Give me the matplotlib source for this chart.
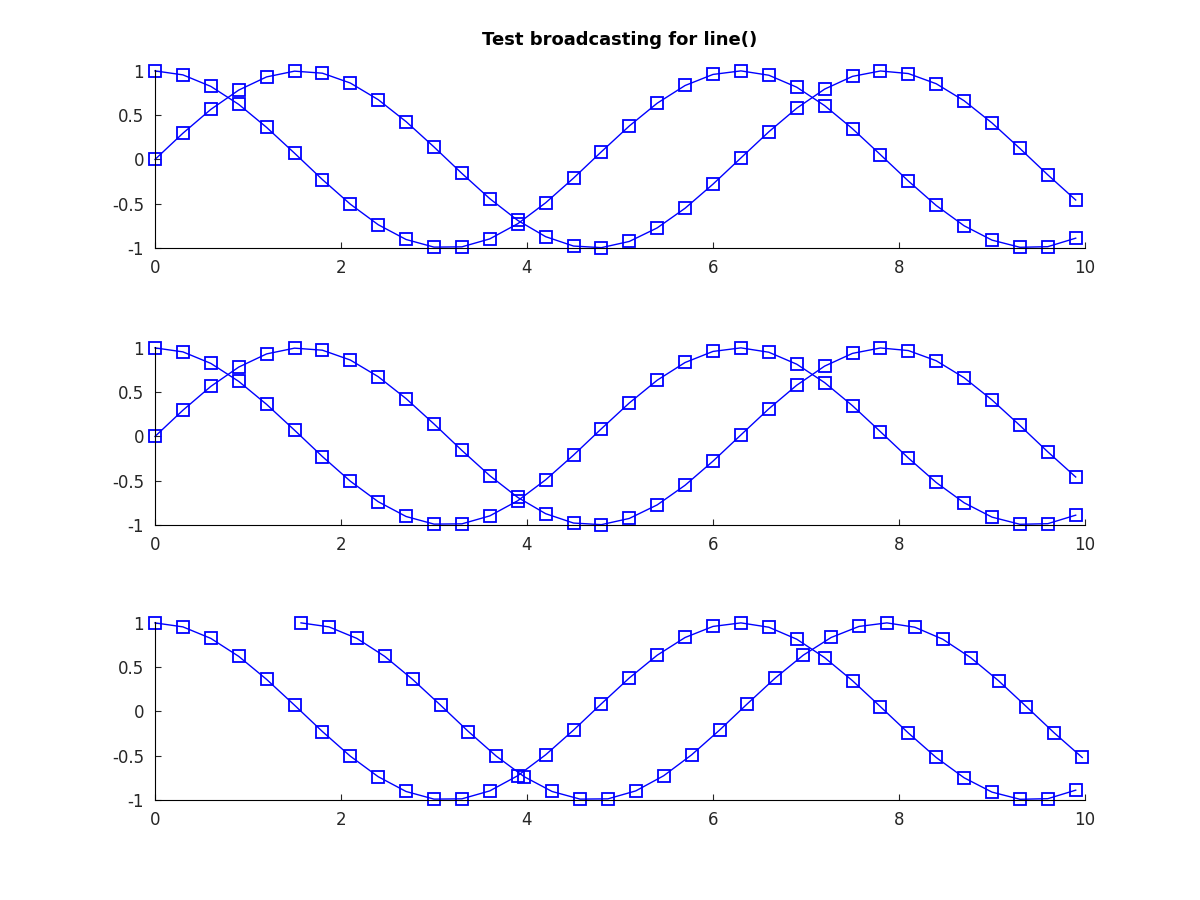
import matplotlib.pyplot as plt

t = [0.0, 0.3, 0.6, 0.9, 1.2, 1.5, 1.8, 2.1, 2.4, 2.7, 3.0, 3.3, 3.6, 3.9, 4.2, 4.5, 4.8,
     5.1, 5.4, 5.7, 6.0, 6.3, 6.6, 6.9, 7.2, 7.5, 7.8, 8.1, 8.4, 8.7, 9.0, 9.3, 9.6, 9.9]
sin_t = [0.0, 0.296, 0.565, 0.783, 0.932, 0.997, 0.974, 0.863, 0.675, 0.427, 0.141, -0.158,
         -0.443, -0.688, -0.872, -0.978, -0.996, -0.926, -0.773, -0.551, -0.279, 0.017, 0.312,
         0.578, 0.794, 0.938, 0.999, 0.970, 0.855, 0.663, 0.412, 0.124, -0.174, -0.458]
cos_t = [1.0, 0.955, 0.825, 0.622, 0.362, 0.071, -0.227, -0.505, -0.737, -0.904, -0.990,
         -0.987, -0.897, -0.726, -0.490, -0.211, 0.087, 0.378, 0.635, 0.835, 0.960, 1.000,
         0.951, 0.816, 0.608, 0.347, 0.054, -0.243, -0.520, -0.749, -0.911, -0.992, -0.985, -0.889]
# shifted x for the third panel (second curve); last visible point is at 9.97
t_shift = [1.57, 1.87, 2.17, 2.47, 2.77, 3.07, 3.37, 3.67, 3.97, 4.27, 4.57, 4.87, 5.17,
           5.47, 5.77, 6.07, 6.37, 6.67, 6.97, 7.27, 7.57, 7.87, 8.17, 8.47, 8.77, 9.07,
           9.37, 9.67, 9.97]

panels = [
    [(t, sin_t), (t, cos_t)],
    [(t, sin_t), (t, cos_t)],
    [(t, cos_t), (t_shift, cos_t[:len(t_shift)])],
]

fig = plt.figure(figsize=(12, 9), dpi=100)
plt.rcParams['font.family'] = 'DejaVu Sans'
tops = [70, 347, 622]
for i, series in enumerate(panels):
    ax = fig.add_axes([155 / 1200, 1 - (tops[i] + 178) / 900, 930 / 1200, 178 / 900])
    for x, y in series:
        ax.plot(x, y, color='blue', lw=1, marker='s', markersize=9, clip_on=False,
                markerfacecolor='none', markeredgewidth=1.3)
    ax.set_xlim(0, 10)
    ax.set_ylim(-1, 1.01)
    ax.set_xticks([0, 2, 4, 6, 8, 10])
    ax.set_yticks([-1, -0.5, 0, 0.5, 1])
    ax.set_yticklabels(['-1', '-0.5', '0', '0.5', '1'])
    ax.spines['top'].set_visible(False)
    ax.spines['right'].set_visible(False)
    ax.tick_params(direction='in', labelsize=12, colors='#262626', length=4, pad=8)
    if i == 0:
        ax.set_title('Test broadcasting for line()', fontsize=13, fontweight='bold', pad=18)

fig.savefig('out.png')
